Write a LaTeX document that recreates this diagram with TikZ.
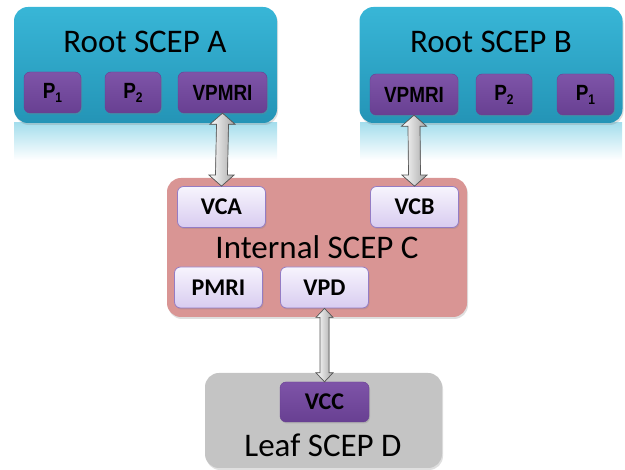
\documentclass[tikz,border=0pt]{standalone}
\usepackage{fontspec}
\setmainfont{Carlito}
\newfontfamily\narrowbold[FakeStretch=0.86]{Liberation Sans Bold}
\usetikzlibrary{calc,shadows}
\definecolor{rootblue}{RGB}{56,182,215}
\definecolor{rootdark}{RGB}{36,148,182}
\definecolor{portpurple}{RGB}{126,84,168}
\definecolor{portdark}{RGB}{104,64,146}
\definecolor{lavtop}{RGB}{247,244,253}
\definecolor{lavbot}{RGB}{216,204,240}
\definecolor{lavline}{RGB}{148,124,196}
\definecolor{innerpink}{RGB}{217,149,148}
\definecolor{leafgray}{RGB}{196,196,196}
\newcommand\pidx[1]{P\raisebox{-4pt}{\fontsize{14}{14}\selectfont #1}}
\newcommand\twoway[5]{\filldraw[arrowfill] (#1) -- ($(#1)+(#4,#5)$) -- ($(#1)+(#3,#5)$) -- ($(#2)+(#3,-#5)$) -- ($(#2)+(#4,-#5)$) -- (#2) -- ($(#2)+(-#4,-#5)$) -- ($(#2)+(-#3,-#5)$) -- ($(#1)+(-#3,#5)$) -- ($(#1)+(-#4,#5)$) -- cycle;}
\begin{document}
\begin{tikzpicture}[x=1pt,y=-1pt,
    scep/.style={rounded corners=14pt,drop shadow={opacity=0.25,shadow xshift=1pt,shadow yshift=-2pt}},
    rootbox/.style={scep,top color=rootblue,bottom color=rootdark,minimum width=263pt,minimum height=116pt},
    title/.style={font=\fontsize{33}{36}\selectfont},
    port/.style={rounded corners=6pt,draw=portdark,top color=portpurple,bottom color=portdark,minimum height=41pt,
      font=\narrowbold\fontsize{22}{24}\selectfont,text=black,drop shadow={opacity=0.3,shadow xshift=1pt,shadow yshift=-1.5pt}},
    vport/.style={rounded corners=6pt,draw=lavline,line width=0.8pt,top color=lavtop,bottom color=lavbot,minimum width=88pt,minimum height=41pt,
      font=\bfseries\fontsize{24}{26}\selectfont,drop shadow={opacity=0.25,shadow xshift=1pt,shadow yshift=-1.5pt}},
    arrowfill/.style={draw=black!65,line width=0.7pt,left color=white,right color=black!35}]
\useasboundingbox (0,0) rectangle (625,470);
\shade[top color=rootblue!45,bottom color=white] (14,123) rectangle (277,160);
\shade[top color=rootblue!45,bottom color=white] (360,123) rectangle (622,160);
\node[rootbox] (rootA) at (145.5,65) {};
\node[rootbox] (rootB) at (491,65) {};
\node[scep,fill=innerpink,minimum width=300pt,minimum height=139pt] (internC) at (317,247.5) {};
\node[scep,fill=leafgray,minimum width=237pt,minimum height=95pt] (leafD) at (323.5,420.5) {};
\node[title] (titleA) at (145,42) {Root SCEP A};
\node[title] (titleB) at (491,42) {Root SCEP B};
\node[title] (titleC) at (317,247) {Internal SCEP C};
\node[title] (titleD) at (323,445) {Leaf SCEP D};
\node[port,minimum width=57pt] (pA1) at (52.5,92.5) {\pidx{1}};
\node[port,minimum width=56pt] (pA2) at (133,92.5) {\pidx{2}};
\node[port,minimum width=89pt] (vpmriA) at (222.5,92.5) {VPMRI};
\node[port,minimum width=88pt] (vpmriB) at (414,94.5) {VPMRI};
\node[port,minimum width=56pt] (pB2) at (504,94.5) {\pidx{2}};
\node[port,minimum width=57pt] (pB1) at (585.5,94.5) {\pidx{1}};
\node[vport] (vca) at (221.5,207) {VCA};
\node[vport] (vcb) at (414.5,207) {VCB};
\node[vport] (pmri) at (218.5,287.5) {PMRI};
\node[vport] (vpd) at (324.5,287.5) {VPD};
\node[port,minimum width=89pt,minimum height=40pt,font=\bfseries\fontsize{24}{26}\selectfont] (vcc) at (324.5,402) {VCC};
\twoway{vpmriA.south}{vca.north}{6}{12.5}{11}
\twoway{vpmriB.south}{vcb.north}{6}{12.5}{11}
\twoway{vpd.south}{vcc.north}{4.5}{8.5}{9}
\end{tikzpicture}
\end{document}
